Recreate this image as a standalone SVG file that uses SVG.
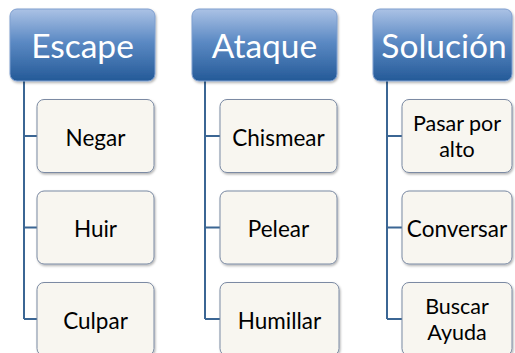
<svg xmlns="http://www.w3.org/2000/svg" width="515" height="353" viewBox="0 0 515 353">
<style>
.hdr{stroke:#7f9fcf;stroke-width:1;fill:url(#hg);filter:url(#sh)}
.box{fill:#f8f6f0;stroke:#7b8aa3;stroke-width:1;filter:url(#sh)}
.ht{font-family:Lato,"Open Sans",sans-serif;font-size:33.5px;fill:#ffffff;text-anchor:middle}
.ct{font-family:Lato,"Open Sans",sans-serif;font-size:22.5px;fill:#000000;text-anchor:middle}
.c2{font-size:21.5px}
.cn{fill:none;stroke:#3b6694;stroke-width:2}
</style>
<defs>
<linearGradient id="hg" x1="0" y1="0" x2="0" y2="1">
<stop offset="0" stop-color="#abc2e5"/>
<stop offset="0.45" stop-color="#5c8ac4"/>
<stop offset="1" stop-color="#245a98"/>
</linearGradient>
<filter id="sh" x="-10%" y="-10%" width="125%" height="130%">
<feDropShadow dx="1" dy="1.5" stdDeviation="1.2" flood-color="#000" flood-opacity="0.3"/>
</filter>
</defs>
<rect width="515" height="353" fill="#ffffff"/>
<g id="connectors">
<path class="cn" d="M24,81 V319 M24,136 H37 M24,227.5 H37 M24,319 H37"/>
<path class="cn" d="M205,81 V319 M205,136 H220 M205,227.5 H220 M205,319 H220"/>
<path class="cn" d="M387,81 V319 M387,136 H402 M387,227.5 H402 M387,319 H402"/>
</g>
<g id="escape"><rect class="hdr" x="10" y="9" width="145" height="72" rx="7"/><text class="ht" x="82.5" y="58">Escape</text></g>
<g id="negar"><rect class="box" x="37" y="99.5" width="117" height="73" rx="7"/><text class="ct" x="95.5" y="145.5">Negar</text></g>
<g id="huir"><rect class="box" x="37" y="191" width="117" height="73" rx="7"/><text class="ct" x="95.5" y="237">Huir</text></g>
<g id="culpar"><rect class="box" x="37" y="282.5" width="117" height="73" rx="7"/><text class="ct" x="95.5" y="328.5">Culpar</text></g>
<g id="ataque"><rect class="hdr" x="192" y="9" width="145" height="72" rx="7"/><text class="ht" x="264.5" y="58">Ataque</text></g>
<g id="chismear"><rect class="box" x="220" y="99.5" width="117" height="73" rx="7"/><text class="ct" x="278.5" y="145.5">Chismear</text></g>
<g id="pelear"><rect class="box" x="220" y="191" width="117" height="73" rx="7"/><text class="ct" x="278.5" y="237">Pelear</text></g>
<g id="humillar"><rect class="box" x="220" y="282.5" width="119" height="73" rx="7"/><text class="ct" x="279.5" y="328.5">Humillar</text></g>
<g id="solucion"><rect class="hdr" x="373" y="9" width="139" height="72" rx="7"/><text class="ht" x="444" y="58">Solución</text></g>
<g id="pasar"><rect class="box" x="402" y="99.5" width="110" height="73" rx="7"/><text class="ct c2" x="457" y="131">Pasar por</text><text class="ct c2" x="457" y="157">alto</text></g>
<g id="conversar"><rect class="box" x="402" y="191" width="110" height="73" rx="7"/><text class="ct" x="457" y="237">Conversar</text></g>
<g id="buscar"><rect class="box" x="402" y="282.5" width="110" height="73" rx="7"/><text class="ct c2" x="457" y="314">Buscar</text><text class="ct c2" x="457" y="340">Ayuda</text></g>
</svg>
